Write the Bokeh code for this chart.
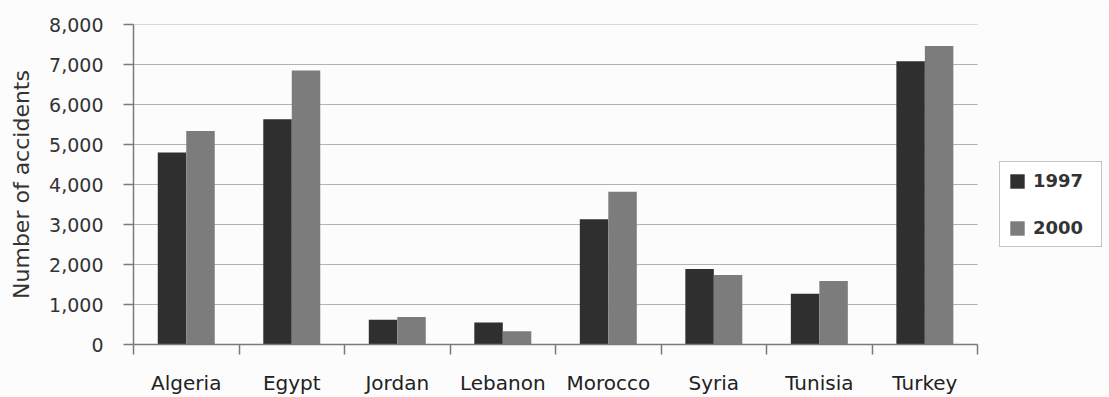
from bokeh.plotting import figure
from bokeh.models import (ColumnDataSource, Range1d, FixedTicker, NumeralTickFormatter,
                          Legend, LegendItem)
from bokeh.transform import dodge
from bokeh.embed import file_html
from bokeh.resources import INLINE

countries = ["Algeria", "Egypt", "Jordan", "Lebanon", "Morocco", "Syria", "Tunisia", "Turkey"]
y1997 = [4800, 5630, 620, 550, 3130, 1890, 1270, 7080]
y2000 = [5340, 6850, 690, 330, 3820, 1740, 1590, 7460]
y_ticks = [0, 1000, 2000, 3000, 4000, 5000, 6000, 7000, 8000]

FONT = "DejaVu Sans"
AXIS_GREY = "#7a7a7a"

n = len(countries)
# one slot per country on a numeric axis; each pair of bars sits in the middle of its slot
centres = [i + 0.5 for i in range(n)]
boundaries = list(range(n + 1))
src = ColumnDataSource(dict(x=centres, country=countries, y1997=y1997, y2000=y2000))

# the frame runs on past the last slot to leave room for the legend
p = figure(width=1109, height=397, output_backend="svg", toolbar_location=None,
           x_range=Range1d(0, 9.25), y_range=Range1d(0, 8000),
           min_border_left=133, min_border_right=0,
           min_border_top=24, min_border_bottom=51,
           background_fill_color="#fcfcfc", border_fill_color="#fcfcfc",
           outline_line_color=None)

# horizontal rules, only across the country slots
p.xgrid.grid_line_color = None
p.ygrid.grid_line_color = None
p.segment(x0=[0] * n, x1=[n] * n, y0=y_ticks[1:], y1=y_ticks[1:],
          line_color="#b3b3b3", line_width=1, level="underlay")

bw = 0.27
r97 = p.vbar(x=dodge("x", -0.135), top="y1997", width=bw,
             source=src, fill_color="#2f2f2f", line_color=None)
r00 = p.vbar(x=dodge("x", 0.135), top="y2000", width=bw,
             source=src, fill_color="#7c7c7c", line_color=None)

# y axis
yax = p.yaxis[0]
yax.ticker = FixedTicker(ticks=y_ticks, minor_ticks=[])
yax.formatter = NumeralTickFormatter(format="0,0")
yax.axis_line_color = AXIS_GREY
yax.axis_line_width = 1.5
yax.major_tick_line_color = AXIS_GREY
yax.major_tick_line_width = 1.5
yax.major_tick_out = 10
yax.major_tick_in = 0
yax.minor_tick_line_color = None
yax.major_label_text_font = FONT
yax.major_label_text_font_size = "19px"
yax.major_label_text_color = "#333333"
yax.major_label_standoff = 20
yax.axis_label = "Number of accidents"
yax.axis_label_text_font = FONT
yax.axis_label_text_font_size = "22px"
yax.axis_label_text_font_style = "normal"
yax.axis_label_text_color = "#333333"
yax.axis_label_standoff = 12

# x axis: country names at slot centres, ticks on the slot boundaries
xax = p.xaxis[0]
xax.bounds = (0, n)
xax.ticker = FixedTicker(ticks=centres, minor_ticks=boundaries)
xax.major_label_overrides = {c: name for c, name in zip(centres, countries)}
xax.axis_line_color = AXIS_GREY
xax.axis_line_width = 1.5
xax.major_tick_line_color = None
xax.major_tick_out = 0
xax.major_tick_in = 0
xax.minor_tick_line_color = AXIS_GREY
xax.minor_tick_line_width = 1.5
xax.minor_tick_out = 10
xax.minor_tick_in = 0
xax.major_label_text_font = FONT
xax.major_label_text_font_size = "20px"
xax.major_label_text_color = "#222222"
xax.major_label_standoff = 16

legend = Legend(items=[LegendItem(label="1997", renderers=[r97]),
                       LegendItem(label="2000", renderers=[r00])],
                location=(866, 97), orientation="vertical",
                label_text_font=FONT, label_text_font_size="18px",
                label_text_font_style="bold", label_text_color="#333333",
                glyph_width=18, glyph_height=18, label_standoff=7,
                label_width=60, spacing=26, padding=8, margin=0,
                border_line_color="#888888", border_line_width=1.5,
                background_fill_color="#ffffff", background_fill_alpha=1)
p.add_layout(legend, "center")

open("out.html", "w").write(file_html(p, INLINE))
